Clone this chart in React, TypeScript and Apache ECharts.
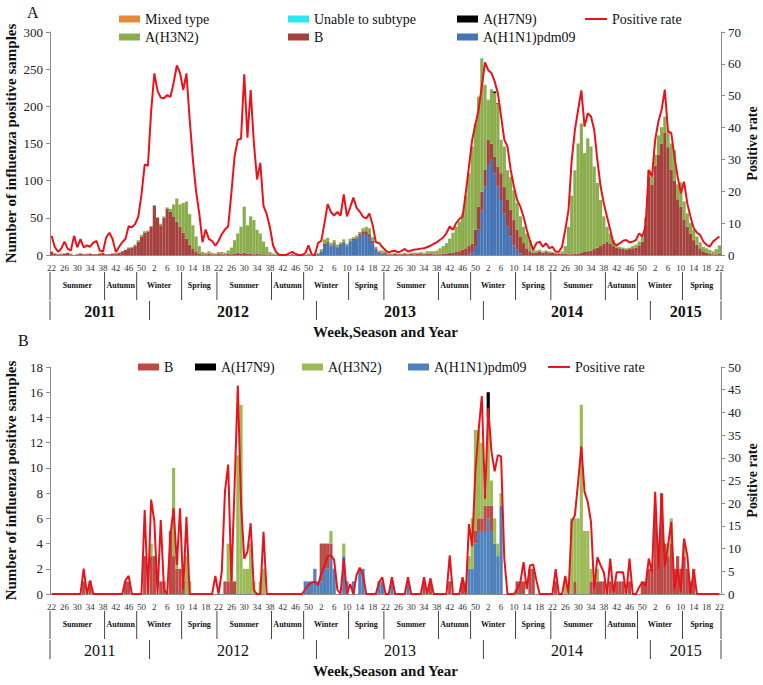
import { useEffect, useRef } from "react";
import * as echarts from "echarts";

const FONT = "'Liberation Serif', 'Times New Roman', serif";

// weeks from 2011 wk22 to 2015 wk22, 52 weeks a year
const FIRST_YEAR = 2011;
const FIRST_WEEK = 22;
const LAST_YEAR = 2015;
const LAST_WEEK = 22;
const weekKeys: string[] = [];
for (let y = FIRST_YEAR; y <= LAST_YEAR; y++) {
  const from = y === FIRST_YEAR ? FIRST_WEEK : 1;
  const to = y === LAST_YEAR ? LAST_WEEK : 52;
  for (let w = from; w <= to; w++) weekKeys.push(`${y}-${w}`);
}

// season starts (week number) and names
const seasonStarts: [number, string][] = [
  [22, "Summer"],
  [39, "Autumn"],
  [49, "Winter"],
  [11, "Spring"],
];

// ---- Panel A: all samples (one inner list per year: 2011 wk22-52, 2012, 2013, 2014, 2015 wk1-22)
const aRate = [
  [6, 2.5, 1, 2, 4.2, 2, 1.4, 6, 2.4, 5, 2.4, 3, 2.6, 3.9, 4.4, 1.4, 1.1, 5.5, 7, 5, 0.9, 2.5, 4, 5, 9, 8.7, 9.7, 12, 19, 28.4, 28],
  [45, 57, 51.5, 49.4, 49.2, 50.2, 49.6, 54, 59.5, 57.2, 51.8, 57, 42.6, 30, 20, 13, 4, 8, 5, 4.4, 2.9, 4.4, 6.5, 8, 9, 19.5, 31, 36.2, 36.5, 56.7, 36.8, 51.8, 35.2, 23.7, 28.9, 15.4, 12.8, 8.7, 2.9, 0.8, 0, 0, 0, 0.5, 1, 0.3, 0, 0, 0.5, 3, 0.2, 0],
  [3.8, 4.4, 10, 16, 13.5, 12.4, 13.5, 12.4, 19, 12.1, 15, 18, 14.8, 13.6, 12, 11.5, 13, 9.4, 4, 3.8, 2.5, 1.5, 0.8, 1.2, 1.3, 0.8, 1.3, 1.9, 1.1, 1.4, 1.7, 1.8, 2, 2.1, 2.5, 2.9, 3.5, 4, 4.8, 5.5, 6.9, 9, 7.9, 10, 11.3, 12, 19.4, 27.8, 36.2, 41, 45.6, 53],
  [60.5, 58, 57.1, 54.5, 50.8, 43.5, 36.2, 34, 26.7, 21.5, 17.3, 15.2, 12, 7.9, 4.5, 1.6, 3.7, 4.2, 2.6, 3.7, 2.1, 2.6, 1, 1, 2.6, 8, 14.1, 29.8, 39.3, 45.6, 51.7, 40.3, 44.5, 43.5, 39.3, 29.8, 21.5, 16.2, 12, 7.9, 3.7, 3.1, 3.7, 4.5, 4.7, 3.9, 4.2, 4.7, 6.8, 5.8, 8.9, 26.7],
  [24.6, 36.2, 41.9, 45.6, 51.9, 38.8, 38.3, 30.9, 24.6, 19.4, 23, 16.2, 12, 8.4, 7, 6.3, 4.2, 3.2, 2.6, 4.2, 5, 5.8],
].flat();

const aH1N1 = [
  [0, 0, 0, 0, 0, 0, 0, 0, 0, 0, 0, 0, 0, 0, 0, 0, 0, 0, 0, 0, 0, 0, 0, 0, 0, 0, 0, 0, 0, 0, 0],
  [0, 0, 0, 0, 0, 0, 0, 0, 0, 0, 0, 0, 0, 0, 0, 0, 0, 0, 0, 0, 0, 0, 0, 0, 0, 0, 0, 0, 0, 0, 0, 0, 0, 0, 0, 0, 0, 0, 0, 0, 0, 0, 0, 0, 0, 0, 0, 0, 0, 0, 0, 0],
  [2, 5, 12, 16, 12, 14, 10, 14, 17, 12, 18, 20, 22, 26, 28, 27, 24, 16, 7, 3, 2, 1, 0, 0, 0, 0, 0, 0, 0, 0, 0, 0, 0, 0, 0, 0, 0, 0, 0, 0, 0, 0, 0, 0, 0, 0, 0, 1, 3, 11, 34, 60],
  [92, 120, 128, 110, 92, 74, 56, 38, 25, 13, 7, 2, 0, 0, 0, 0, 0, 0, 0, 0, 0, 0, 0, 0, 0, 0, 0, 0, 0, 0, 0, 0, 0, 0, 0, 0, 0, 0, 0, 0, 0, 0, 0, 0, 0, 0, 0, 0, 0, 0, 0, 0],
  [0, 0, 0, 0, 0, 0, 0, 0, 0, 0, 0, 0, 0, 0, 0, 0, 0, 0, 0, 0, 0, 0],
].flat();

const aB = [
  [4, 2, 1, 1, 2, 3, 1, 0, 1, 2, 1, 1, 2, 1, 1, 2, 3, 1, 1, 2, 2, 3, 5, 7, 9, 10, 12, 18, 25, 30, 31],
  [38, 66, 50, 40, 50, 62, 58, 52, 45, 38, 30, 22, 14, 8, 4, 2, 1, 1, 2, 1, 1, 2, 1, 1, 2, 1, 2, 3, 2, 3, 2, 2, 1, 2, 1, 1, 0, 1, 0, 0, 0, 0, 0, 0, 1, 0, 0, 0, 0, 1, 0, 0],
  [0, 1, 3, 2, 1, 2, 1, 1, 1, 1, 1, 2, 1, 3, 4, 5, 4, 3, 2, 1, 1, 2, 1, 1, 2, 1, 1, 2, 1, 2, 1, 2, 2, 1, 2, 2, 1, 1, 1, 2, 2, 3, 3, 4, 5, 7, 9, 11, 12, 23, 31, 25],
  [23, 35, 22, 22, 27, 36, 36, 36, 36, 34, 27, 23, 16, 9, 5, 3, 3, 4, 3, 4, 3, 3, 2, 2, 2, 2, 1, 1, 2, 2, 3, 4, 5, 6, 8, 10, 12, 15, 18, 15, 12, 10, 9, 8, 7, 8, 9, 10, 13, 18, 40, 105],
  [95, 120, 135, 150, 165, 145, 115, 100, 75, 65, 48, 38, 29, 20, 14, 9, 5, 3, 2, 1, 1, 2],
].flat();

const aH3N2 = [
  [1, 0, 0, 1, 0, 0, 1, 0, 0, 0, 0, 1, 0, 0, 0, 1, 0, 0, 0, 0, 0, 0, 0, 0, 1, 1, 2, 2, 2, 2, 2],
  [1, 1, 1, 2, 2, 2, 4, 16, 31, 30, 40, 50, 41, 32, 21, 10, 3, 2, 3, 2, 1, 2, 3, 2, 4, 9, 18, 26, 36, 62, 38, 50, 46, 32, 28, 17, 11, 3, 2, 1, 0, 0, 0, 0, 0, 0, 0, 0, 0, 1, 0, 0],
  [1, 2, 6, 5, 3, 4, 3, 2, 3, 2, 3, 2, 3, 2, 4, 6, 8, 5, 2, 2, 3, 2, 1, 1, 1, 0, 1, 1, 1, 1, 2, 1, 2, 2, 3, 3, 4, 5, 8, 10, 14, 19, 27, 34, 40, 48, 71, 98, 131, 143, 148, 179],
  [114, 54, 72, 86, 84, 45, 54, 40, 44, 40, 36, 27, 22, 20, 15, 4, 3, 3, 2, 2, 2, 1, 1, 1, 3, 10, 37, 79, 112, 148, 174, 133, 152, 140, 111, 87, 62, 37, 20, 14, 8, 3, 2, 2, 2, 2, 3, 4, 5, 7, 10, 9],
  [10, 15, 25, 22, 21, 23, 35, 41, 20, 33, 24, 18, 14, 14, 11, 8, 6, 6, 5, 4, 7, 11],
].flat();

// sparse series: [year, week, count]
const aH7N9: [number, number, number][] = [[2014, 4, 2], [2014, 5, 1]];
const aUnable: [number, number, number][] = [[2013, 52, 1]];
const aMixed: [number, number, number][] = [[2014, 3, 1], [2015, 3, 1]];

// ---- Panel B
const bRate = [
  [0, 0, 0, 0, 0, 0, 0, 0, 0, 0, 5.6, 0, 3, 0, 0, 0, 0, 0, 0, 0, 0, 0, 0, 3, 4, 0, 0, 0, 0, 18.5, 0],
  [20.8, 16, 0, 16.3, 1, 0, 13, 18.9, 6.4, 18.9, 1, 17, 0, 0, 0, 0, 0, 0, 0, 0, 4, 0, 4.9, 22.6, 28.5, 2.7, 24, 45.9, 20, 7.8, 9.3, 15.6, 0.8, 0, 0, 13.7, 0, 0, 0, 0, 0, 0, 0, 0, 0, 0, 0, 0, 1, 2, 2.5, 2.7],
  [2, 4.5, 6.2, 8.4, 8.5, 7.5, 1, 0, 7.8, 0, 2.2, 0, 4.2, 5.8, 4.2, 0, 0, 0, 0, 2.6, 3.7, 0, 0, 3.7, 0, 0, 0, 0, 3.7, 0, 0, 0, 0, 3.7, 0, 3.5, 0, 0, 0, 0, 0, 8.5, 0, 0, 0, 3.7, 0, 15.4, 10.5, 27, 36, 43.6],
  [21, 41, 31.4, 27, 30.6, 30.3, 7.8, 0, 0, 0, 1.1, 2.6, 7, 1.1, 6.3, 6.5, 3, 0, 0, 0, 0, 0, 5.5, 0, 0, 4, 0, 15.9, 17.4, 24.7, 32.5, 22.5, 20.3, 15.9, 1.1, 8.1, 6.3, 4.8, 0, 7.8, 0, 4.8, 4.8, 4.8, 0, 7.8, 0, 0, 1.5, 2.6, 1.8, 7.8],
  [4.8, 22.5, 5.5, 22, 6, 10.7, 15.9, 1.1, 5.5, 0.5, 12.2, 8.5, 0, 5.2, 0, 0, 0, 0, 0, 0, 0, 0],
].flat();

const bB: [number, number, number][] = [
  [2011, 32, 1], [2011, 34, 1], [2011, 45, 1], [2011, 46, 1], [2011, 51, 3],
  [2012, 1, 3], [2012, 2, 3], [2012, 4, 1], [2012, 5, 1], [2012, 7, 5], [2012, 8, 3], [2012, 9, 2], [2012, 10, 2], [2012, 11, 1],
  [2012, 24, 1], [2012, 25, 1], [2012, 26, 1], [2012, 27, 1],
  [2013, 2, 3], [2013, 3, 2], [2013, 4, 2], [2013, 5, 1], [2013, 34, 1], [2013, 36, 1], [2013, 42, 1], [2013, 46, 1],
  [2013, 50, 1], [2013, 51, 1], [2013, 52, 1],
  [2014, 1, 2], [2014, 2, 1], [2014, 3, 2], [2014, 11, 1], [2014, 12, 1], [2014, 13, 1], [2014, 15, 2], [2014, 16, 2],
  [2014, 23, 1], [2014, 29, 1], [2014, 34, 1], [2014, 35, 1], [2014, 36, 1], [2014, 37, 1], [2014, 38, 1], [2014, 40, 1],
  [2014, 42, 1], [2014, 43, 1], [2014, 44, 1], [2014, 46, 1], [2014, 50, 1], [2014, 51, 1], [2014, 52, 2],
  [2015, 1, 2], [2015, 2, 6], [2015, 3, 3], [2015, 4, 8], [2015, 5, 4], [2015, 6, 3], [2015, 7, 4], [2015, 8, 2],
  [2015, 9, 3], [2015, 10, 2], [2015, 11, 3], [2015, 12, 2], [2015, 13, 1], [2015, 14, 2],
];

const bH3N2: [number, number, number][] = [
  [2012, 1, 1], [2012, 8, 7], [2012, 9, 1], [2012, 12, 3], [2012, 13, 1], [2012, 25, 3], [2012, 26, 1], [2012, 28, 11],
  [2012, 29, 15], [2012, 30, 2], [2012, 31, 2], [2012, 32, 4], [2012, 33, 1], [2012, 35, 1], [2012, 36, 2],
  [2013, 5, 1], [2013, 9, 1], [2013, 47, 1], [2013, 48, 1], [2013, 49, 4], [2013, 50, 8], [2013, 51, 7], [2013, 52, 6],
  [2014, 1, 1], [2014, 2, 7], [2014, 3, 2], [2014, 4, 2], [2014, 5, 1], [2014, 6, 1], [2014, 26, 1], [2014, 28, 6],
  [2014, 29, 5], [2014, 30, 6], [2014, 31, 15], [2014, 32, 5], [2014, 33, 5], [2014, 34, 1], [2014, 36, 1],
  [2015, 6, 1], [2015, 7, 2], [2015, 11, 1],
];

const bH1N1: [number, number, number][] = [
  [2012, 49, 1], [2012, 50, 1], [2012, 51, 1], [2012, 52, 2],
  [2013, 1, 1], [2013, 2, 1], [2013, 3, 2], [2013, 4, 2], [2013, 5, 3], [2013, 6, 2], [2013, 9, 3], [2013, 10, 1],
  [2013, 12, 1], [2013, 14, 2], [2013, 15, 2], [2013, 20, 1], [2013, 21, 1], [2013, 24, 1], [2013, 29, 1],
  [2013, 48, 2], [2013, 49, 2], [2013, 50, 4], [2013, 51, 5], [2013, 52, 5],
  [2014, 1, 5], [2014, 2, 6], [2014, 3, 5], [2014, 4, 4], [2014, 5, 3], [2014, 6, 7],
];

const bH7N9: [number, number, number][] = [[2014, 2, 2]];

const fromSparse = (pts: [number, number, number][]) => {
  const arr = weekKeys.map(() => 0);
  pts.forEach(([y, w, v]) => {
    const i = weekKeys.indexOf(`${y}-${w}`);
    if (i >= 0) arr[i] = v;
  });
  return arr;
};

type Seg = { start: number; end: number; label: string };
const seasonSegs: Seg[] = [];
const yearSegs: Seg[] = [];
weekKeys.forEach((k, i) => {
  const [y, w] = k.split("-").map(Number);
  const isLast = i === weekKeys.length - 1;
  const s = seasonStarts.find(([sw]) => sw === w);
  if (i === 0 || (s && !isLast)) seasonSegs.push({ start: i, end: i, label: s ? s[1] : "" });
  else seasonSegs[seasonSegs.length - 1].end = i;
  if (w === 1 || i === 0) yearSegs.push({ start: i, end: i, label: String(y) });
  else yearSegs[yearSegs.length - 1].end = i;
});

const COLORS_A = { h1: "#4674B5", b: "#A5413F", h3: "#8CAD4E", h7: "#000000", unable: "#2EE6F6", mixed: "#E8883A" };
const COLORS_B = { h1: "#4F81BD", b: "#BC4B48", h3: "#9BBB59", h7: "#000000" };
const RED = "#E8141B";

function tableSeries(gridIdx: number, segs: Seg[], kind: "season" | "year", bold: boolean) {
  return {
    type: "custom",
    xAxisIndex: gridIdx,
    yAxisIndex: gridIdx * 2,
    silent: true,
    clip: false,
    z: 10,
    data: segs.map((s) => [s.start, s.end, 0]),
    encode: { x: [0, 1], y: 2 },
    renderItem: (params: any, api: any) => {
      const seg = segs[params.dataIndex];
      const bw = api.size([1, 0])[0];
      const x0 = api.coord([api.value(0), 0])[0] - bw / 2;
      const x1 = api.coord([api.value(1), 0])[0] + bw / 2;
      const base = api.coord([0, 0])[1];
      const top = kind === "season" ? base + 17 : base + 46;
      const bot = kind === "season" ? base + 45 : base + 65;
      const ty = kind === "season" ? base + 30 : base + 56;
      const lineStyle = { stroke: "#444", lineWidth: 1 };
      const children: any[] = [
        { type: "line", shape: { x1: x0, y1: top, x2: x0, y2: bot }, style: lineStyle },
        {
          type: "text",
          x: (x0 + x1) / 2,
          y: ty,
          style: {
            text: seg.label,
            fill: "#111",
            fontFamily: FONT,
            fontSize: kind === "season" ? 8 : 16,
            fontWeight: kind === "season" || bold ? "bold" : "normal",
            align: "center",
            verticalAlign: "middle",
          },
        },
      ];
      if (params.dataIndex === segs.length - 1) {
        children.push({ type: "line", shape: { x1: x1, y1: top, x2: x1, y2: bot }, style: lineStyle });
      }
      return { type: "group", children };
    },
  };
}

function barSeries(name: string, data: number[], color: string, gridIdx: number) {
  return {
    type: "bar",
    name,
    data,
    stack: `g${gridIdx}`,
    xAxisIndex: gridIdx,
    yAxisIndex: gridIdx * 2,
    barCategoryGap: "0%",
    itemStyle: { color },
    emphasis: { disabled: true },
  };
}

function legendItem(name: any, left: number, top: number, line = false) {
  return {
    data: [name],
    left,
    top,
    padding: 0,
    icon: "rect",
    itemWidth: line ? 22 : 21,
    itemHeight: line ? 2 : 7,
    selectedMode: false,
    textStyle: { fontFamily: FONT, fontSize: 14, color: "#111" },
  };
}

export default function App() {
  const ref = useRef<HTMLDivElement>(null);

  useEffect(() => {
    if (!ref.current) return;
    const chart = echarts.init(ref.current, undefined, { renderer: "svg" });

    const xAxisFor = (gridIndex: number) => ({
      type: "category",
      gridIndex,
      data: weekKeys,
      boundaryGap: true,
      axisLine: { lineStyle: { color: "#8c8c8c" } },
      axisTick: { interval: 0, length: 3, lineStyle: { color: "#8c8c8c" } },
      axisLabel: {
        interval: 3,
        formatter: (v: string) => v.split("-")[1],
        fontFamily: FONT,
        fontSize: 9,
        color: "#333",
        margin: 8,
      },
      name: "Week,Season and Year",
      nameLocation: "middle",
      nameGap: 69,
      nameMoveOverlap: false,
      nameTextStyle: { fontFamily: FONT, fontSize: 15, fontWeight: "bold", color: "#111" },
    });

    const yCommon = {
      type: "value",
      axisLine: { show: true, lineStyle: { color: "#8c8c8c" } },
      axisTick: { show: true, length: 4, lineStyle: { color: "#8c8c8c" } },
      splitLine: { show: false },
      axisLabel: { fontFamily: FONT, fontSize: 13, color: "#222", margin: 7 },
      nameLocation: "middle",
      nameRotate: 90,
      nameMoveOverlap: false,
      nameTextStyle: { fontFamily: FONT, fontSize: 15, fontWeight: "bold", color: "#111" },
    };
    const rightName = { fontFamily: FONT, fontSize: 14, fontWeight: "bold", color: "#111" };

    chart.setOption({
      animation: false,
      backgroundColor: "#ffffff",
      title: [
        { text: "A", left: 27, top: 4, padding: 0, textStyle: { fontFamily: FONT, fontSize: 16, fontWeight: "normal", color: "#111" } },
        { text: "B", left: 18, top: 332, padding: 0, textStyle: { fontFamily: FONT, fontSize: 16, fontWeight: "normal", color: "#111" } },
      ],
      legend: [
        legendItem("Mixed type", 119, 12),
        legendItem("Unable to subtype", 288, 12),
        legendItem("A(H7N9)", 457, 12),
        legendItem("Positive rate", 585, 12, true),
        legendItem("A(H3N2)", 119, 30),
        legendItem("B", 288, 30),
        legendItem("A(H1N1)pdm09", 457, 30),
        legendItem({ name: "B", itemStyle: { color: COLORS_B.b } }, 138, 360),
        legendItem({ name: "A(H7N9)", itemStyle: { color: COLORS_B.h7 } }, 195, 360),
        legendItem({ name: "A(H3N2)", itemStyle: { color: COLORS_B.h3 } }, 302, 360),
        legendItem({ name: "A(H1N1)pdm09", itemStyle: { color: COLORS_B.h1 } }, 408, 360),
        legendItem("Positive rate", 548, 360, true),
      ],
      grid: [
        { left: 50, right: 42, top: 32, height: 223, outerBoundsMode: "none" },
        { left: 50, right: 42, top: 367, height: 227, outerBoundsMode: "none" },
      ],
      xAxis: [xAxisFor(0), xAxisFor(1)],
      yAxis: [
        { ...yCommon, gridIndex: 0, min: 0, max: 300, interval: 50, name: "Number of influenza positive samples", nameGap: 32 },
        { ...yCommon, gridIndex: 0, position: "right", min: 0, max: 70, interval: 10, name: "Positive rate", nameGap: 24, nameTextStyle: rightName },
        { ...yCommon, gridIndex: 1, min: 0, max: 18, interval: 2, name: "Number of influenza positive samples", nameGap: 32 },
        { ...yCommon, gridIndex: 1, position: "right", min: 0, max: 50, interval: 5, name: "Positive rate", nameGap: 24, nameTextStyle: rightName },
      ],
      series: [
        barSeries("A(H1N1)pdm09", aH1N1, COLORS_A.h1, 0),
        barSeries("B", aB, COLORS_A.b, 0),
        barSeries("A(H3N2)", aH3N2, COLORS_A.h3, 0),
        barSeries("A(H7N9)", fromSparse(aH7N9), COLORS_A.h7, 0),
        barSeries("Unable to subtype", fromSparse(aUnable), COLORS_A.unable, 0),
        barSeries("Mixed type", fromSparse(aMixed), COLORS_A.mixed, 0),
        {
          type: "line",
          name: "Positive rate",
          data: aRate,
          xAxisIndex: 0,
          yAxisIndex: 1,
          symbol: "none",
          lineStyle: { color: RED, width: 2 },
          itemStyle: { color: RED },
          z: 5,
        },
        barSeries("A(H1N1)pdm09", fromSparse(bH1N1), COLORS_B.h1, 1),
        barSeries("B", fromSparse(bB), COLORS_B.b, 1),
        barSeries("A(H3N2)", fromSparse(bH3N2), COLORS_B.h3, 1),
        barSeries("A(H7N9)", fromSparse(bH7N9), COLORS_B.h7, 1),
        {
          type: "line",
          name: "Positive rate",
          data: bRate,
          xAxisIndex: 1,
          yAxisIndex: 3,
          symbol: "none",
          lineStyle: { color: RED, width: 2 },
          itemStyle: { color: RED },
          z: 5,
        },
        tableSeries(0, seasonSegs, "season", true),
        tableSeries(0, yearSegs, "year", true),
        tableSeries(1, seasonSegs, "season", false),
        tableSeries(1, yearSegs, "year", false),
      ],
    } as any);

    return () => chart.dispose();
  }, []);

  return (
    <div
      ref={ref}
      style={{ position: "fixed", left: 0, top: 0, width: "763px", height: "685px", background: "#fff" }}
    />
  );
}
